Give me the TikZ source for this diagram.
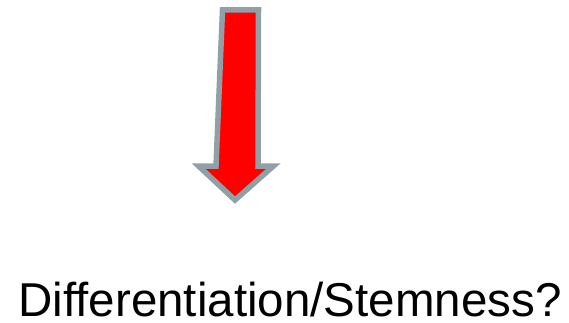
\documentclass[tikz,border=0pt]{standalone}
\usepackage{fontspec}
\setmainfont{Liberation Sans}
\definecolor{arrowred}{RGB}{255, 0, 0}
\definecolor{arrowgray}{RGB}{143, 161, 166}
\usetikzlibrary{positioning}

\begin{document}
\begin{tikzpicture}[x=1pt, y=-1pt]
  \useasboundingbox (0, 0) rectangle (569, 323);

  % The big down arrow
  \draw[draw=arrowgray, fill=arrowred, line width=5.5pt, line join=miter]
    (222.5, 10) -- (258.5, 10) -- (258, 166) -- (273.5, 166)
    -- (235, 200) -- (198.5, 166) -- (216, 166) -- cycle;

  % The question
  \node[anchor=base, inner sep=0pt, text depth=0pt, font=\fontsize{47.5}{50}\selectfont] (question) at (290, 316) {Differentiation/Stemness?};
\end{tikzpicture}
\end{document}
